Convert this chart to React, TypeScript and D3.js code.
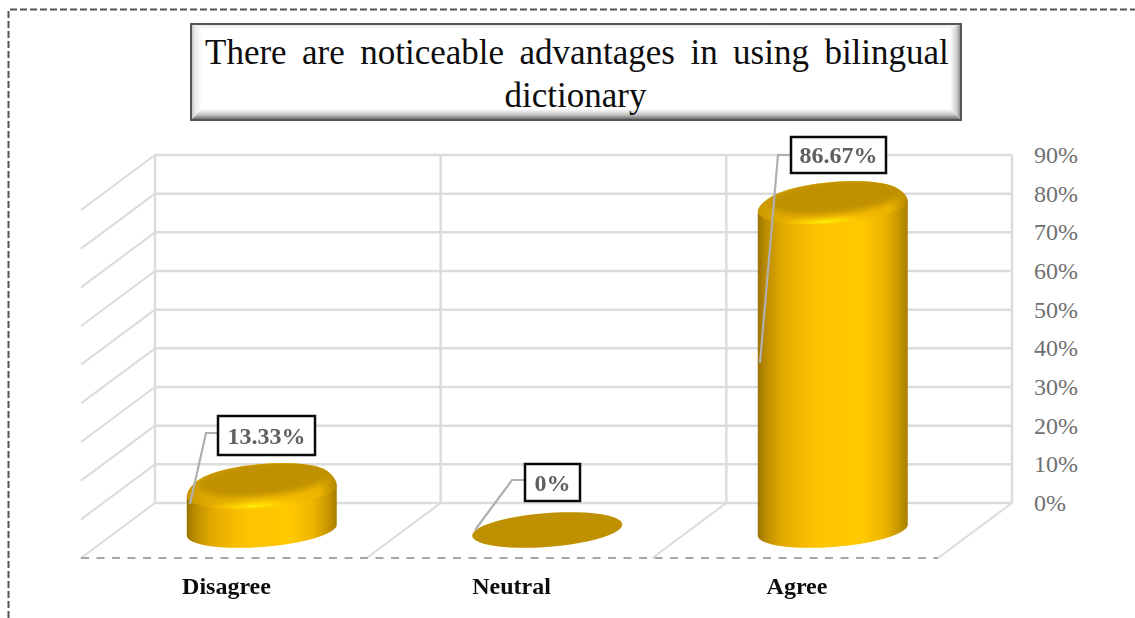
import React from "react";
import * as d3 from "d3";

const categories = ["Disagree", "Neutral", "Agree"];
const values = [13.33, 0, 86.67];
const valueLabels = ["13.33%", "0%", "86.67%"];
const ticks = [0, 10, 20, 30, 40, 50, 60, 70, 80, 90];
const titleLines = ["There are noticeable advantages in using bilingual", "dictionary"];

const W = 1135, H = 618;
const serif = "'Liberation Serif','Times New Roman',serif";
const wallX = d3.scaleLinear().domain([0, 3]).range([155, 1012]);
const wallY = d3.scaleLinear().domain([0, 90]).range([503, 155]);
const barY = d3.scaleLinear().domain([0, 90]).range([532.3, 186.2]);
const barX = d3.scaleBand<string>().domain(categories).range([119.5, 976]);
const depth = { x: -74, y: 55 };
const A = 75, B = 17, S = 5.5;
const bevelOffsets = [10, 6, 7.5];
const shoulderSteps = [0, 0.1, 0.2, 0.3, 0.4, 0.5, 0.6, 0.7, 0.8, 0.9, 1];
const labelBoxes = [
  { x: 218, y: 416, w: 97, h: 39, leader: [[190, 504], [206, 433], [218, 433]] },
  { x: 525, y: 464, w: 55, h: 37, leader: [[475, 530], [512, 480], [525, 480]] },
  { x: 791, y: 137, w: 95, h: 36, leader: [[760, 363], [778, 155], [791, 155]] },
];

const angles = d3.range(0, 361, 6).map((d) => (d * Math.PI) / 180);
function arcPts(cx: number, cy: number, a: number, b: number, s: number, from = 0, to = 2 * Math.PI) {
  return angles
    .map((t) => from + (t / (2 * Math.PI)) * (to - from))
    .map((t) => [cx + a * Math.cos(t), cy - s * Math.cos(t) + b * Math.sin(t)] as [number, number]);
}
const line = d3.line();
const ellipsePath = (cx: number, cy: number, a = A, b = B, s = S) => line(arcPts(cx, cy, a, b, s))! + "Z";
const sweepPath = (cx: number, yTop: number, yBot: number) => {
  const upper = arcPts(cx, yTop, A, B, S, Math.PI, 2 * Math.PI);
  const lower = arcPts(cx, yBot, A, B, S, 0, Math.PI);
  return line([...upper, ...lower])! + "Z";
};
// rounded shoulder: stacked ellipses that widen as they go down
const shoulderPaths = (cx: number, yTop: number, yb: number) =>
  shoulderSteps.map((k) => ellipsePath(cx, yTop + k * (yb - yTop), A - 7 * (1 - k) * (1 - k), B, S));

const GRAD = [
  [0, "#9a7200"], [0.05, "#b98b00"], [0.16, "#e0a900"], [0.32, "#f7bb00"], [0.42, "#fdc500"],
  [0.7, "#ffc800"], [0.84, "#eeb500"], [0.93, "#cc9a00"], [1, "#a87e00"],
] as const;

export default function App() {
  const cylinders = categories.map((c, i) => {
    const cx = barX(c)! + barX.bandwidth() / 2 - 0.5;
    return { c, i, cx, yBase: barY(0) - 2.3, yTop: barY(values[i]), v: values[i] };
  });
  const boxX = 191, boxY = 24, boxW = 770, boxH = 96, bv = 11;
  const x2 = boxX + boxW, y2 = boxY + boxH;
  return (
    <svg width={W} height={H} viewBox={`0 0 ${W} ${H}`} style={{ position: "absolute", left: 0, top: 0, background: "#fff" }}>
      <defs>
        <linearGradient id="body" x1="0" x2="1" y1="0" y2="0">
          {GRAD.map(([o, col]) => <stop key={o} offset={o} stopColor={col} />)}
        </linearGradient>
        <linearGradient id="band" gradientUnits="objectBoundingBox" x1="0" x2="1" y1="0" y2="0">
          <stop offset="0" stopColor="#c79600" />
          <stop offset="0.12" stopColor="#dfa800" />
          <stop offset="0.5" stopColor="#fcc200" />
          <stop offset="0.88" stopColor="#ecb400" />
          <stop offset="1" stopColor="#b58800" />
        </linearGradient>
        <radialGradient id="hl">
          <stop offset="0" stopColor="#ffee10" />
          <stop offset="0.3" stopColor="#ffdc00" stopOpacity="0.85" />
          <stop offset="1" stopColor="#ffc800" stopOpacity="0" />
        </radialGradient>
        <filter id="soft" x="-10%" y="-20%" width="120%" height="140%"><feGaussianBlur stdDeviation="3" /></filter>
        <filter id="aa" x="-5%" y="-5%" width="110%" height="110%"><feGaussianBlur stdDeviation="0.35" /></filter>
        <linearGradient id="bvB" x1="0" x2="0" y1="0" y2="1">
          <stop offset="0" stopColor="#ffffff" /><stop offset="0.5" stopColor="#c8c8c8" /><stop offset="1" stopColor="#5e5e5e" />
        </linearGradient>
        <linearGradient id="bvR" x1="0" x2="1" y1="0" y2="0">
          <stop offset="0" stopColor="#ffffff" /><stop offset="0.6" stopColor="#d0d0d0" /><stop offset="1" stopColor="#808080" />
        </linearGradient>
        <linearGradient id="bvL" x1="1" x2="0" y1="0" y2="0">
          <stop offset="0" stopColor="#ffffff" /><stop offset="0.7" stopColor="#e6e6e6" /><stop offset="1" stopColor="#b5b5b5" />
        </linearGradient>
        <linearGradient id="bvT" x1="0" x2="0" y1="1" y2="0">
          <stop offset="0" stopColor="#ffffff" /><stop offset="1" stopColor="#e2e2e2" />
        </linearGradient>
        {cylinders.filter((d) => d.v > 0).map((d) => (
          <clipPath id={`band${d.i}`} key={d.i}>
            {shoulderPaths(d.cx, d.yTop, d.yTop + bevelOffsets[d.i]).map((p, k) => <path key={k} d={p} />)}
          </clipPath>
        ))}
      </defs>

      {/* outer dashed frame */}
      <path d={`M8.5,${H} V9.5 H${W}`} fill="none" stroke="#555" strokeWidth={2} strokeDasharray="7,3" />

      {/* title box */}
      <polygon points={`${boxX},${boxY} ${x2},${boxY} ${x2 - bv},${boxY + 5} ${boxX + bv},${boxY + 5}`} fill="url(#bvT)" />
      <polygon points={`${boxX},${boxY} ${boxX + bv},${boxY + 5} ${boxX + bv},${y2 - bv} ${boxX},${y2}`} fill="url(#bvL)" />
      <polygon points={`${x2},${boxY} ${x2 - bv},${boxY + 5} ${x2 - bv},${y2 - bv} ${x2},${y2}`} fill="url(#bvR)" />
      <polygon points={`${boxX},${y2} ${boxX + bv},${y2 - bv} ${x2 - bv},${y2 - bv} ${x2},${y2}`} fill="url(#bvB)" />
      <rect x={boxX + bv} y={boxY + 5} width={boxW - 2 * bv} height={boxH - 5 - bv} fill="#fff" />
      <rect x={boxX} y={boxY} width={boxW} height={boxH} fill="none" stroke="#555" strokeWidth={2} />
      <text x={205} y={64} fontFamily={serif} fontSize={35} fill="#0d0d0d" style={{ wordSpacing: "6.7px" }}>{titleLines[0]}</text>
      <text x={575.5} y={107} fontFamily={serif} fontSize={35} fill="#0d0d0d" textAnchor="middle">{titleLines[1]}</text>

      {/* walls */}
      <g stroke="#dcdcdc" strokeWidth={2.5} fill="none">
        {ticks.map((t) => (
          <line key={t} x1={wallX(0)} x2={wallX(3)} y1={wallY(t)} y2={wallY(t)} />
        ))}
        {ticks.filter((t) => t > 0).map((t) => (
          <line key={t} x1={wallX(0)} x2={wallX(0) + depth.x} y1={wallY(t)} y2={wallY(t) + depth.y} strokeWidth={2} />
        ))}
        {[0, 1, 2, 3].map((k) => (
          <line key={k} x1={wallX(k)} x2={wallX(k)} y1={wallY(90)} y2={wallY(0)} />
        ))}
        {[0, 1, 2, 3].map((k) => (
          <line key={k} x1={wallX(k)} x2={wallX(k) + depth.x} y1={wallY(0)} y2={wallY(0) + depth.y} strokeWidth={2} />
        ))}
      </g>
      <line x1={wallX(0) + depth.x} x2={wallX(3) + depth.x} y1={wallY(0) + depth.y} y2={wallY(0) + depth.y}
        stroke="#a6a6a6" strokeWidth={2} strokeDasharray="8,7.5" />

      {/* tick labels */}
      {ticks.map((t) => (
        <text key={t} x={1034} y={wallY(t) + 8} fontFamily={serif} fontSize={24} fill="#707070">{t}%</text>
      ))}

      {/* cylinders */}
      <g filter="url(#aa)">
        {cylinders.map((d) => {
          if (d.v === 0) return <path key={d.c} d={ellipsePath(d.cx, d.yBase)} fill="#bf9000" />;
          const yb = d.yTop + bevelOffsets[d.i];
          return (
            <g key={d.c}>
              <path d={sweepPath(d.cx, yb, d.yBase)} fill="url(#body)" />
              <g clipPath={`url(#band${d.i})`}>
                <rect x={d.cx - A} y={d.yTop - B - 8} width={2 * A} height={yb - d.yTop + 2 * B + 16} fill="url(#band)" />
                <ellipse cx={d.cx - 8} cy={yb + B - 2} rx={52} ry={7} fill="url(#hl)" transform={`rotate(-4 ${d.cx - 8} ${yb + B - 2})`} />
                <path d={ellipsePath(d.cx + 4, d.yTop - 3, 68, 18, 7)} fill="#bf9000" filter="url(#soft)" />
              </g>
            </g>
          );
        })}
      </g>

      {/* leaders + labels */}
      {labelBoxes.map((b, i) => (
        <g key={i}>
          <path d={line(b.leader as [number, number][])!} fill="none" stroke="#b0b0b0" strokeWidth={2.2} />
          <rect x={b.x} y={b.y} width={b.w} height={b.h} fill="#fff" stroke="#0a0a0a" strokeWidth={2.5} />
          <text x={b.x + b.w / 2} y={b.y + b.h / 2 + 8} textAnchor="middle" fontFamily={serif} fontWeight="bold" fontSize={24} fill="#5f5f5f">{valueLabels[i]}</text>
        </g>
      ))}

      {/* categories */}
      {categories.map((c, i) => (
        <text key={c} x={[226.5, 511.5, 797][i]} y={594} textAnchor="middle" fontFamily={serif} fontWeight="bold" fontSize={24} fill="#0d0d0d">{c}</text>
      ))}
    </svg>
  );
}
